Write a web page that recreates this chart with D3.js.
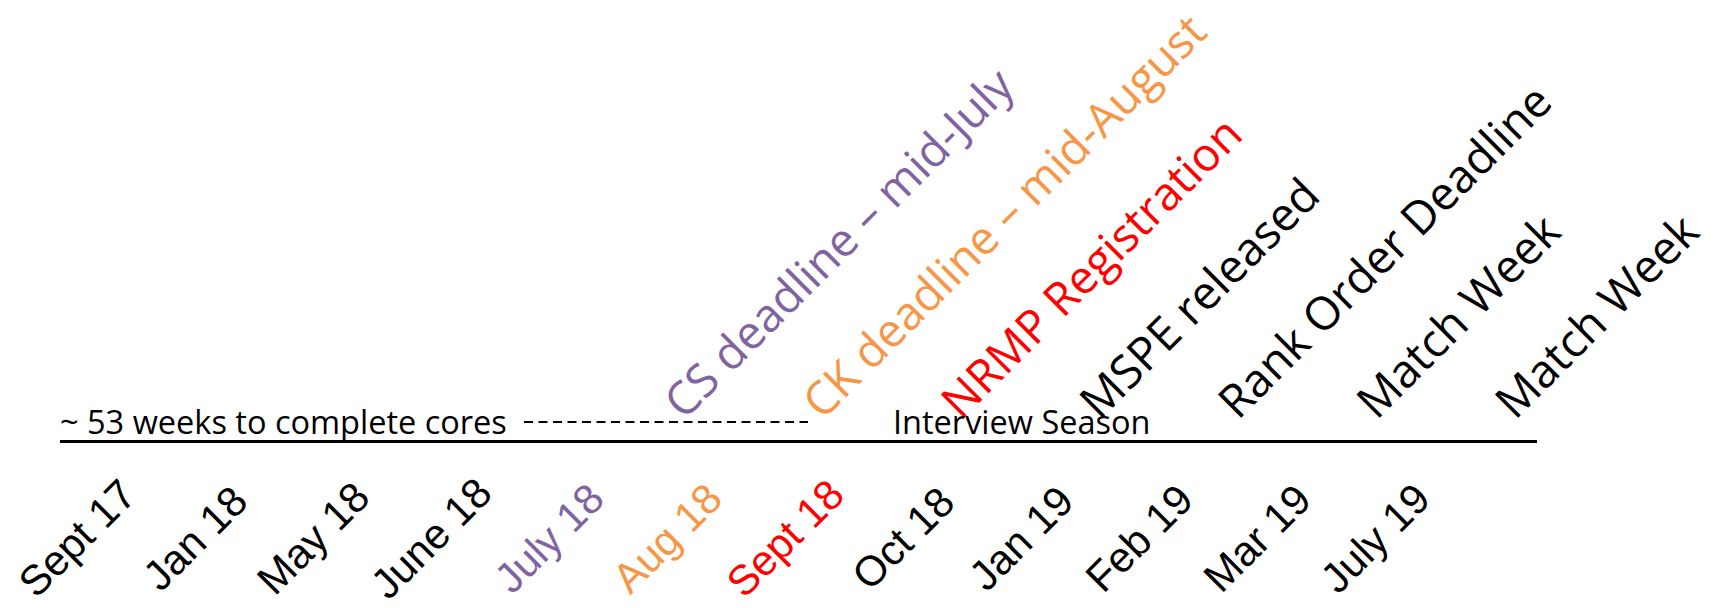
<!DOCTYPE html>
<html>
<head>
<meta charset="utf-8">
<script src="https://cdn.jsdelivr.net/npm/d3@7"></script>
<style>
  html, body { margin: 0; padding: 0; background: #fff; }
  svg { display: block; }
</style>
</head>
<body>
<svg id="timeline"></svg>
<script>
// timeline slots along the bottom
const months = ["Sept 17", "Jan 18", "May 18", "June 18", "July 18", "Aug 18",
                "Sept 18", "Oct 18", "Jan 19", "Feb 19", "Mar 19", "July 19"];
// which exam / group each month belongs to (for colour)
const monthGroup = ["none", "none", "none", "none", "CS", "CK",
                    "NRMP", "none", "none", "none", "none", "none"];

// milestones written diagonally above the line
const events = ["CS deadline \u2013 mid-July", "CK deadline \u2013 mid-August",
                "NRMP Registration", "MSPE released", "Rank Order Deadline",
                "Match Week", "Match Week"];
const eventGroup = ["CS", "CK", "NRMP", "none", "none", "none", "none"];

// phases written on the line
const phases = ["~ 53 weeks to complete cores", "Interview Season"];

width = 1718;
height = 608;

const groupColor = d3.scaleOrdinal()
    .domain(["none", "CS", "CK", "NRMP"])
    .range(["#000000", "#8064a2", "#f79646", "#ff0000"]);

const svg = d3.select("#timeline")
    .attr("width", width)
    .attr("height", height);

lineY = 441.5;

// month labels - point scale, rotated
const xMonth = d3.scalePoint()
    .domain(d3.range(months.length))
    .range([77, 1375]);

svg.append("g")
  .selectAll("text")
  .data(months)
  .join("text")
    .attr("transform", (d, i) => `translate(${xMonth(i)},538) rotate(-45)`)
    .attr("text-anchor", "middle")
    .attr("dy", "0.35em")
    .attr("font-family", "'Liberation Sans', Arial, sans-serif")
    .attr("font-size", 42)
    .attr("fill", (d, i) => groupColor(monthGroup[i]))
    .text(d => d);

// milestone labels
const xEvent = d3.scalePoint()
    .domain(d3.range(events.length))
    .range([684, 1515]);

svg.append("g")
  .selectAll("text")
  .data(events)
  .join("text")
    .attr("transform", (d, i) => `translate(${xEvent(i)},421) rotate(-45)`)
    .attr("text-anchor", "start")
    .attr("font-family", "'Open Sans', Lato, sans-serif")
    .attr("font-size", 46)
    .attr("fill", (d, i) => groupColor(eventGroup[i]))
    .text(d => d);

// main line
svg.append("line")
    .attr("x1", 60)
    .attr("x2", 1537)
    .attr("y1", lineY)
    .attr("y2", lineY)
    .attr("stroke", "#000")
    .attr("stroke-width", 3);

// phase texts
const phaseX = [60, 893];
svg.append("g")
  .selectAll("text")
  .data(phases)
  .join("text")
    .attr("x", (d, i) => phaseX[i])
    .attr("y", 434)
    .attr("font-family", "'Open Sans', Lato, sans-serif")
    .attr("font-size", 32.5)
    .attr("fill", "#000")
    .text(d => d);

// dashed connector between the two phases
svg.append("line")
    .attr("x1", 524)
    .attr("x2", 808)
    .attr("y1", 422)
    .attr("y2", 422)
    .attr("stroke", "#000")
    .attr("stroke-width", 2)
    .attr("stroke-dasharray", "9,5.5");
</script>
</body>
</html>
